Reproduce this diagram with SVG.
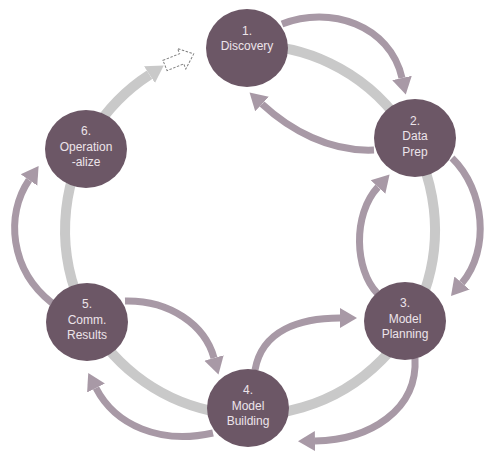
<svg xmlns="http://www.w3.org/2000/svg" width="496" height="460" viewBox="0 0 496 460">
<style>
.ring{fill:none;stroke:#c9c9c9;stroke-width:10}
.arr{fill:none;stroke:#a899a6;stroke-width:7}
.node{fill:#6c5766}
.lbl{font-family:"Liberation Sans",Arial,sans-serif;font-size:12px;fill:#ece4ea;text-anchor:middle}
</style>
<defs>
<marker id="ph" markerUnits="userSpaceOnUse" markerWidth="24" markerHeight="24" refX="0" refY="11" orient="auto">
<polygon points="0,1 17,11 0,21" fill="#a899a6"/>
</marker>
<marker id="gh" markerUnits="userSpaceOnUse" markerWidth="24" markerHeight="24" refX="0" refY="11" orient="auto">
<polygon points="0,1 17,11 0,21" fill="#c9c9c9"/>
</marker>
</defs>
<g id="connectors">
<path class="ring" d="M250,45 A185,185 0 1 1 149.5,74.7" marker-end="url(#gh)"/>
<polygon points="0,-5.5 18,-5.5 18,-11 31,0 18,11 18,5.5 0,5.5" transform="translate(165,65.5) rotate(-22)" fill="#fff" stroke="#808080" stroke-width="1" stroke-dasharray="2.5,1.5"/>
<path class="arr" d="M282,24 C330,5 390,25 402,78" marker-end="url(#ph)"/>
<path class="arr" d="M374,150 C330,152 290,130 262,104" marker-end="url(#ph)"/>
<path class="arr" d="M452,158 C485,190 490,250 462,283" marker-end="url(#ph)"/>
<path class="arr" d="M377,293 C355,270 352,215 378,187" marker-end="url(#ph)"/>
<path class="arr" d="M415,358 C418,410 370,440 315,441" marker-end="url(#ph)"/>
<path class="arr" d="M255,370 C262,330 300,318 340,318" marker-end="url(#ph)"/>
<path class="arr" d="M213,433 C160,445 115,425 96,388" marker-end="url(#ph)"/>
<path class="arr" d="M125,301 C170,300 205,325 214,358" marker-end="url(#ph)"/>
<path class="arr" d="M52,303 C10,270 5,215 29,180" marker-end="url(#ph)"/>
</g>
<g id="n1"><ellipse class="node" cx="247" cy="48" rx="41" ry="39"/><text class="lbl" x="247" y="34.5">1.</text><text class="lbl" x="247" y="50">Discovery</text></g>
<g id="n2"><ellipse class="node" cx="415" cy="138" rx="41" ry="39"/><text class="lbl" x="415" y="124.5">2.</text><text class="lbl" x="415" y="139.5">Data</text><text class="lbl" x="415" y="155.5">Prep</text></g>
<g id="n3"><ellipse class="node" cx="405" cy="321" rx="41" ry="39"/><text class="lbl" x="405" y="307">3.</text><text class="lbl" x="405" y="322.5">Model</text><text class="lbl" x="405" y="338">Planning</text></g>
<g id="n4"><ellipse class="node" cx="248" cy="408" rx="41" ry="39"/><text class="lbl" x="248" y="394">4.</text><text class="lbl" x="248" y="409.5">Model</text><text class="lbl" x="248" y="425">Building</text></g>
<g id="n5"><ellipse class="node" cx="87" cy="322" rx="41" ry="39"/><text class="lbl" x="87" y="308">5.</text><text class="lbl" x="87" y="323.5">Comm.</text><text class="lbl" x="87" y="339">Results</text></g>
<g id="n6"><ellipse class="node" cx="86" cy="149" rx="41" ry="39"/><text class="lbl" x="86" y="135">6.</text><text class="lbl" x="86" y="150.5">Operation</text><text class="lbl" x="86" y="166">-alize</text></g>
</svg>
